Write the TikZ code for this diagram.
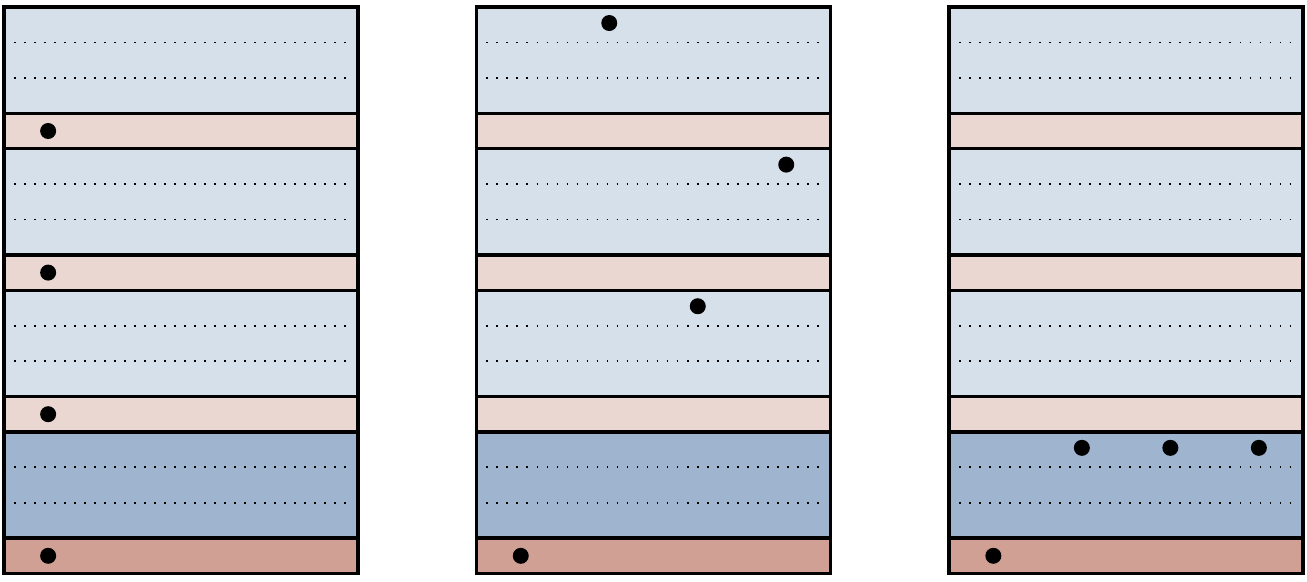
\documentclass[tikz,border=0pt]{standalone}
\usepackage{xcolor}
\definecolor{cellblue}{RGB}{214,224,234}
\definecolor{cellpink}{RGB}{234,215,210}
\definecolor{lastblue}{RGB}{159,180,207}
\definecolor{lastpink}{RGB}{208,160,148}
\usetikzlibrary{calc}

\begin{document}
\begin{tikzpicture}[x=0.708cm, y=0.708cm,
  band/.style={draw=black, line width=1.9pt},
  gridline/.style={line width=1pt, dash pattern=on 1pt off 4.7pt},
  token/.style={fill=black}]
  \useasboundingbox (-0.11,0.2) rectangle (36.81,-16.24);

  % three stacks of blocks
  \foreach \x in {0, 13.35, 26.7} {
    \foreach \b/\bl/\pk in {0/cellblue/cellpink, 1/cellblue/cellpink, 2/cellblue/cellpink, 3/lastblue/lastpink} {
      \fill[\bl] (\x,{-4*\b}) rectangle ({\x+10},{-4*\b-3});
      \fill[\pk] (\x,{-4*\b-3}) rectangle ({\x+10},{-4*\b-4});
      \draw[gridline] ({\x+0.28},{-4*\b-1}) -- ({\x+9.9},{-4*\b-1});
      \draw[gridline] ({\x+0.28},{-4*\b-2}) -- ({\x+9.9},{-4*\b-2});
    }
    \foreach \y in {3,4,7,8,11,12,15}
      \draw[band] (\x,-\y) -- ({\x+10},-\y);
    \draw[band] (\x,0) rectangle ({\x+10},-16);
  }

  % tokens, left stack
  \foreach \y in {3.5, 7.5, 11.5, 15.5}
    \fill[token] (1.25,-\y) circle (0.16cm);

  % tokens, middle stack
  \foreach \k/\y in {1/0.45, 3/4.45, 2/8.45, 0/15.5}
    \fill[token] ({13.35+1.25+2.5*\k},-\y) circle (0.16cm);

  % tokens, right stack
  \foreach \k/\y in {1/12.45, 2/12.45, 3/12.45, 0/15.5}
    \fill[token] ({26.7+1.25+2.5*\k},-\y) circle (0.16cm);
\end{tikzpicture}
\end{document}
